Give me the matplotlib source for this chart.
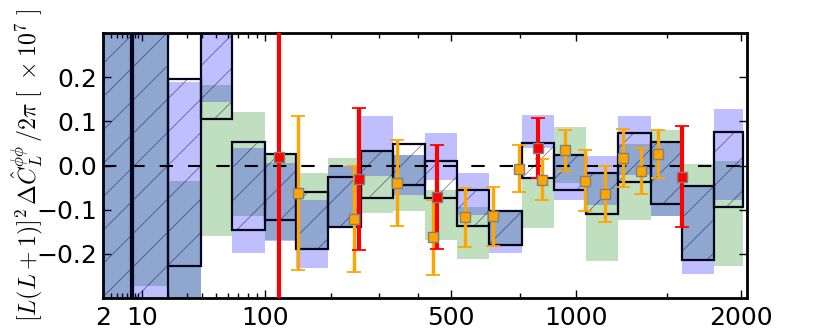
import numpy as np
import matplotlib
matplotlib.use('Agg')
import matplotlib.pyplot as plt

plt.rcParams['mathtext.fontset'] = 'cm'
plt.rcParams['hatch.linewidth'] = 0.5

# multipole bins
bin_lo = [2, 7.4, 20, 39, 64, 99, 142, 195, 260, 334, 421, 520, 631, 757, 896, 1049, 1217, 1402, 1592, 1809]
bin_hi = [7, 20, 39, 64, 99, 142, 195, 260, 334, 421, 520, 631, 757, 896, 1049, 1217, 1402, 1592, 1809, 2016]

# hatched boxes (outlined)
box_hi = [0.6, 0.6, 0.195, 0.6, 0.053, 0.026, -0.061, -0.027, 0.033, 0.049, 0.011, -0.056,
          -0.102, 0.051, 0.024, -0.017, 0.073, 0.053, -0.047, 0.075]
box_lo = [-0.6, -0.6, -0.228, 0.105, -0.145, -0.123, -0.189, -0.139, -0.074, -0.045, -0.074, -0.138,
          -0.179, -0.028, -0.055, -0.110, -0.038, -0.087, -0.213, -0.094]

# blue bands
blue_hi = [0.6, 0.6, 0.190, 0.6, 0.039, 0.005, -0.077, -0.002, 0.113, 0.024, 0.073, -0.016,
           -0.102, 0.114, 0.024, 0.022, 0.113, 0.054, -0.047, 0.127]
blue_lo = [-0.6, -0.6, -0.6, 0.144, -0.198, -0.172, -0.232, -0.136, -0.023, -0.066, -0.032, -0.112,
           -0.198, 0.040, -0.077, -0.089, -0.021, -0.115, -0.245, -0.077]

# green bands
green_hi = [0.6, 0.6, -0.036, 0.182, 0.122, 0.026, -0.017, 0.017, 0.033, 0.024, -0.055, -0.095,
            -0.102, -0.028, 0.087, -0.017, 0.049, 0.081, 0.004, 0.011]
green_lo = [-0.6, -0.273, -0.6, -0.160, -0.115, -0.168, -0.189, -0.136, -0.107, -0.104, -0.169, -0.211,
            -0.179, -0.141, -0.040, -0.217, -0.123, -0.115, -0.213, -0.228]

# red points
red_L = [117, 255, 455, 824, 1592]
red_val = [0.020, -0.031, -0.072, 0.039, -0.025]
red_err = [0.5, 0.161, 0.118, 0.068, 0.115]

# orange points
orange_L = [145, 245, 345, 445, 545, 645, 745, 845, 945, 1045, 1145, 1245, 1345, 1445]
orange_val = [-0.062, -0.121, -0.040, -0.163, -0.117, -0.115, -0.007, -0.032, 0.034, -0.035,
              -0.065, 0.017, -0.013, 0.026]
orange_err = [0.174, 0.120, 0.098, 0.085, 0.067, 0.067, 0.054, 0.047, 0.047, 0.069,
              0.064, 0.066, 0.052, 0.054]

xticks = [2, 10, 100, 500, 1000, 2000]
xticklabels = ['2', '10', '100', '500', '1000', '2000']
xminor = [3, 4, 5, 6, 7, 8, 9, 20, 30, 40, 50, 60, 70, 80, 90, 200, 300, 400, 750, 1500]
yticks = [-0.2, -0.1, 0.0, 0.1, 0.2]

fig = plt.figure(figsize=(8.3, 3.32), dpi=100)
ax = fig.add_axes([0.1241, 0.1024, 0.7759, 0.7982])
ax.set_xscale('function', functions=(lambda x: np.abs(x) ** 0.4, lambda y: np.abs(y) ** 2.5))

lo = np.array(bin_lo)
w = np.array(bin_hi) - lo

gh, gl = np.array(green_hi), np.array(green_lo)
bh, bl = np.array(blue_hi), np.array(blue_lo)
hh, hl = np.array(box_hi), np.array(box_lo)

ax.bar(lo, gh - gl, width=w, bottom=gl, align='edge', color='green', alpha=0.25, lw=0, zorder=1)
ax.bar(lo, bh - bl, width=w, bottom=bl, align='edge', color='blue', alpha=0.25, lw=0, zorder=2)
ax.bar(lo, hh - hl, width=w, bottom=hl, align='edge', color='none',
       edgecolor=(0, 0, 0.3, 0.6), hatch='/', lw=0, zorder=3)
ax.bar(lo, hh - hl, width=w, bottom=hl, align='edge', fill=False,
       edgecolor='#05051e', lw=1.6, zorder=4)

ax.axhline(0, color='k', lw=1.5, ls=(0, (6.4, 7.2)), zorder=5)

ax.errorbar(orange_L, orange_val, yerr=orange_err, fmt='none', ecolor='orange',
            elinewidth=2.4, capsize=5, capthick=1.3, zorder=6)
ax.errorbar(red_L, red_val, yerr=red_err, fmt='none', ecolor='red',
            elinewidth=3, capsize=4.7, capthick=1.3, zorder=7)
ax.plot(orange_L, orange_val, 's', mfc='orange', mec='gray', ms=7.5, mew=1, zorder=8)
ax.plot(red_L, red_val, 's', mfc='red', mec='gray', ms=7.5, mew=1, zorder=9)

ax.set_xlim(2, 2045)
ax.set_ylim(-0.3, 0.3)
ax.set_xticks(xticks, labels=xticklabels)
ax.set_xticks(xminor, minor=True)
ax.set_xticklabels([], minor=True)
ax.set_yticks(yticks)

for s in ax.spines.values():
    s.set_linewidth(2)
ax.tick_params(which='both', direction='in', top=True, right=True, width=1)
ax.tick_params(which='major', length=6, labelsize=18)
ax.tick_params(which='minor', length=3.5)
ax.tick_params(axis='x', pad=6)
ax.tick_params(axis='y', pad=4)

ax.set_ylabel(r'$[L(L+1)]^2\,\Delta\hat{C}_L^{\phi\phi}\,/2\pi\ [\ \times 10^7\ ]$',
              fontsize=17.2, va='center')
ax.yaxis.set_label_coords(-0.118, 0.5)

fig.savefig('out.png', dpi=100)
